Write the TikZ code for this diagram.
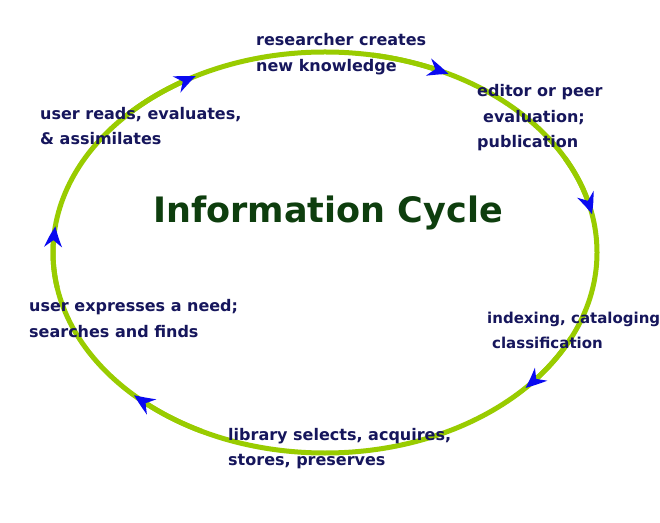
\documentclass[tikz,border=0pt]{standalone}
\usepackage{fontspec}
\usetikzlibrary{arrows.meta,bending}
\newfontfamily\cyclefont{DejaVu Sans}
\definecolor{ringgreen}{RGB}{153,204,0}
\definecolor{tipblue}{RGB}{10,10,240}
\definecolor{labelnavy}{RGB}{22,22,92}
\definecolor{titlegreen}{RGB}{14,62,14}
\begin{document}
\begin{tikzpicture}[x=1pt,y=1pt,
  ring/.style={draw=ringgreen, line width=5pt},
  ringtip/.style={ring,
    -{Stealth[length=21pt,width=18pt,inset=7pt,line width=0pt,color=tipblue,bend]}},
  stagelabel/.style={anchor=west, inner sep=0pt, align=left, text=labelnavy,
    font=\cyclefont\bfseries\fontsize{16}{25.5}\selectfont},
  cycletitle/.style={inner sep=0pt, text=titlegreen,
    font=\cyclefont\bfseries\fontsize{35}{40}\selectfont}]
\useasboundingbox[fill=white] (0,0) rectangle (660,522);

% centre of the cycle and the points where the arrow tips sit
\coordinate (C) at (325,269.5);
\coordinate (t1) at ([shift={(118.4:272 and 200.5)}]C);
\coordinate (t2) at ([shift={(63:272 and 200.5)}]C);
\coordinate (t3) at ([shift={(11:272 and 200.5)}]C);
\coordinate (t4) at ([shift={(-42.5:272 and 200.5)}]C);
\coordinate (t5) at ([shift={(-134.6:272 and 200.5)}]C);
\coordinate (t6) at ([shift={(172.5:272 and 200.5)}]C);

% the cycle itself
\draw[ring] (C) ellipse[x radius=272, y radius=200.5];

% clockwise arrow heads, each ending at its tip point
\draw[ringtip] ([shift={(190:272 and 200.5)}]C) arc[start angle=190, end angle=172.5, x radius=272, y radius=200.5];
\draw[ringtip] ([shift={(136:272 and 200.5)}]C) arc[start angle=136, end angle=118.4, x radius=272, y radius=200.5];
\draw[ringtip] ([shift={(80:272 and 200.5)}]C) arc[start angle=80, end angle=63, x radius=272, y radius=200.5];
\draw[ringtip] ([shift={(28:272 and 200.5)}]C) arc[start angle=28, end angle=11, x radius=272, y radius=200.5];
\draw[ringtip] ([shift={(-25:272 and 200.5)}]C) arc[start angle=-25, end angle=-42.5, x radius=272, y radius=200.5];
\draw[ringtip] ([shift={(-117:272 and 200.5)}]C) arc[start angle=-117, end angle=-134.6, x radius=272, y radius=200.5];

% stage labels
\node[stagelabel] (create) at (256,468) {researcher creates\\new knowledge};
\node[stagelabel] (publish) at (477,404) {editor or peer\\\hspace{6pt}evaluation;\\publication};
\node[stagelabel, font=\cyclefont\bfseries\fontsize{15}{25.5}\selectfont] (index) at (487,191.5) {indexing, cataloging\\\hspace{5pt}classification};
\node[stagelabel] (library) at (228,73.5) {library selects, acquires,\\stores, preserves};
\node[stagelabel] (need) at (29,203.5) {user expresses a need;\\searches and finds};
\node[stagelabel] (read) at (40,396) {user reads, evaluates,\\\& assimilates};

\node[cycletitle] (title) at (328,309) {Information Cycle};
\end{tikzpicture}
\end{document}
